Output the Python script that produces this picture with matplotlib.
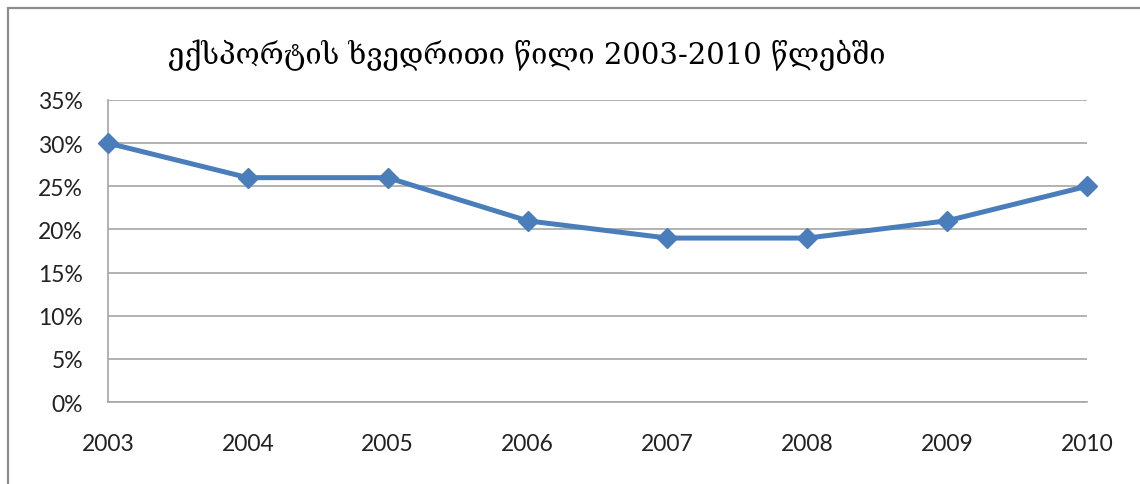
import matplotlib
matplotlib.use("Agg")
import matplotlib.pyplot as plt
from matplotlib.patches import Rectangle
from matplotlib.ticker import FuncFormatter

years = ["2003", "2004", "2005", "2006", "2007", "2008", "2009", "2010"]
share = [30, 26, 26, 21, 19, 19, 21, 25]
yticks = [0, 5, 10, 15, 20, 25, 30, 35]
title = "ექსპორტის ხვედრითი წილი 2003-2010 წლებში"

W, H = 1140, 485
fig = plt.figure(figsize=(W / 100, H / 100), dpi=100)
fig.patch.set_facecolor("white")

# outer chart border (left and top visible)
fig.add_artist(Rectangle((8 / W, -0.1), 1.2, 1 - 9 / H + 0.1, transform=fig.transFigure,
                         fill=False, edgecolor="#8c8c8c", linewidth=1.6))

ax = fig.add_axes([108 / W, 1 - 403 / H, (1087 - 108) / W, (403 - 101) / H])
x = list(range(len(years)))
ax.plot(x, share, color="#4a7ebb", linewidth=3.6, marker="D", markersize=10.5,
        markerfacecolor="#4a7ebb", markeredgecolor="#4a7ebb", clip_on=False, zorder=3)

ax.set_xlim(0, len(years) - 1)
ax.set_ylim(0, 35)
ax.set_yticks(yticks)
ax.yaxis.set_major_formatter(FuncFormatter(lambda v, p: f"{int(v)}%"))
ax.set_xticks(x)
ax.set_xticklabels(years)
ax.grid(axis="y", color="#a6a6a6", linewidth=1.2)
ax.set_axisbelow(True)
for s in ["top", "right"]:
    ax.spines[s].set_visible(False)
for s in ["left", "bottom"]:
    ax.spines[s].set_color("#a6a6a6")
    ax.spines[s].set_linewidth(1.2)
ax.tick_params(axis="both", length=0, labelsize=16.5, labelcolor="#222222")
ax.tick_params(axis="y", pad=18)
ax.tick_params(axis="x", pad=22)
for lab in ax.get_xticklabels() + ax.get_yticklabels():
    lab.set_family(["Lato", "DejaVu Sans"])

fig.text(527 / W, 1 - 55 / H, title, ha="center", va="center", fontsize=21,
         family=["DejaVu Serif", "DejaVu Sans"], color="black")

fig.savefig("out.png", dpi=100)
